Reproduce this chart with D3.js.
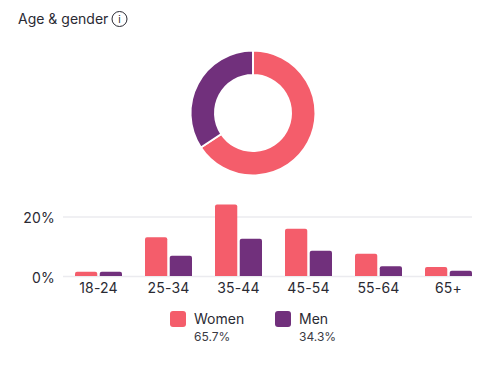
<!DOCTYPE html>
<html>
<head>
<meta charset="utf-8">
<script src="https://cdn.jsdelivr.net/npm/d3@7"></script>
<style>
html, body { margin: 0; padding: 0; background: #fff; }
svg { display: block; }
text { font-family: Inter, "Noto Sans", sans-serif; fill: #2a2a33; }
</style>
</head>
<body>
<div id="chart"></div>
<script>
var ageGroups = ["18-24", "25-34", "35-44", "45-54", "55-64", "65+"];
var genders = ["Women", "Men"];
var genderShares = [65.7, 34.3];
var womenValues = [1.4, 13, 24, 15.9, 7.5, 3];
var menValues = [1.4, 6.8, 12.5, 8.5, 3.3, 1.8];
var yTicks = [0, 20];

var width = 500, height = 382;
var color = d3.scaleOrdinal().domain(genders).range(["#f45d6b", "#71307c"]);

var svg = d3.select("#chart")
    .append("svg")
    .attr("width", width)
    .attr("height", height);

// title + info icon
svg.append("text")
    .attr("x", 18)
    .attr("y", 24)
    .style("font-size", "14px")
    .text("Age & gender");

svg.append("circle")
    .attr("cx", 119.5)
    .attr("cy", 19)
    .attr("r", 7.5)
    .attr("fill", "none")
    .attr("stroke", "#2a2a33")
    .attr("stroke-width", 1);

svg.append("text")
    .attr("x", 119.5)
    .attr("y", 23)
    .attr("text-anchor", "middle")
    .style("font-size", "10px")
    .text("i");

// donut
var pie = d3.pie().sort(null);
var arc = d3.arc().innerRadius(38).outerRadius(62.5);

svg.append("g")
    .attr("transform", "translate(253,113)")
    .selectAll("path")
    .data(pie(genderShares))
    .enter()
    .append("path")
    .attr("d", arc)
    .attr("fill", function(d, i) { return color(genders[i]); })
    .attr("stroke", "#fff")
    .attr("stroke-width", 2);

// bars
var x = d3.scaleBand()
    .domain(ageGroups)
    .range([75, 472])
    .paddingInner(23 / 70)
    .paddingOuter(0);

var xInner = d3.scaleBand()
    .domain(genders)
    .range([0, x.bandwidth()])
    .paddingInner(0.1);

var y = d3.scaleLinear()
    .domain([0, 20])
    .range([276, 216.5]);

var yAxis = svg.append("g")
    .attr("transform", "translate(63,0)")
    .call(d3.axisLeft(y)
        .tickValues(yTicks)
        .tickFormat(function(d) { return d + "%"; })
        .tickSize(0)
        .tickPadding(8));

yAxis.select(".domain").remove();
yAxis.selectAll("text")
    .attr("dy", "1.32em")
    .attr("y", -12)
    .style("font-size", "14px")
    .style("letter-spacing", "0.2px")
    .style("font-family", "Inter, sans-serif");
yAxis.selectAll(".tick line")
    .attr("x2", 409)
    .attr("stroke", "#ebebef")
    .attr("stroke-width", 1.5);

function barPath(x0, w, top, bottom) {
    var r = Math.min(2, bottom - top);
    var p = d3.path();
    p.moveTo(x0, bottom);
    p.lineTo(x0, top + r);
    p.quadraticCurveTo(x0, top, x0 + r, top);
    p.lineTo(x0 + w - r, top);
    p.quadraticCurveTo(x0 + w, top, x0 + w, top + r);
    p.lineTo(x0 + w, bottom);
    p.closePath();
    return p.toString();
}

var seriesValues = [womenValues, menValues];

genders.forEach(function(gender, s) {
    svg.append("g")
        .selectAll("path")
        .data(seriesValues[s])
        .enter()
        .append("path")
        .attr("fill", color(gender))
        .attr("d", function(d, i) {
            return barPath(x(ageGroups[i]) + xInner(gender), xInner.bandwidth(), y(d), y(0));
        });
});

var xAxis = svg.append("g")
    .attr("transform", "translate(0,276)")
    .call(d3.axisBottom(x).tickSize(0).tickPadding(7));

xAxis.select(".domain").remove();
xAxis.selectAll("text")
    .style("font-size", "14px")
    .style("letter-spacing", "0.2px")
    .style("font-family", "Inter, sans-serif");

// legend
var legendX = [170, 275];

var legend = svg.selectAll(".legend")
    .data(genders)
    .enter()
    .append("g")
    .attr("class", "legend")
    .attr("transform", function(d, i) { return "translate(" + legendX[i] + ",311)"; });

legend.append("rect")
    .attr("width", 16)
    .attr("height", 16)
    .attr("rx", 3)
    .attr("fill", function(d) { return color(d); });

legend.append("text")
    .attr("x", 24)
    .attr("y", 13)
    .style("font-size", "14px")
    .text(function(d) { return d; });

legend.append("text")
    .attr("x", 24)
    .attr("y", 30)
    .style("font-size", "12px")
    .style("fill", "#3a3a44")
    .text(function(d, i) { return genderShares[i] + "%"; });
</script>
</body>
</html>
